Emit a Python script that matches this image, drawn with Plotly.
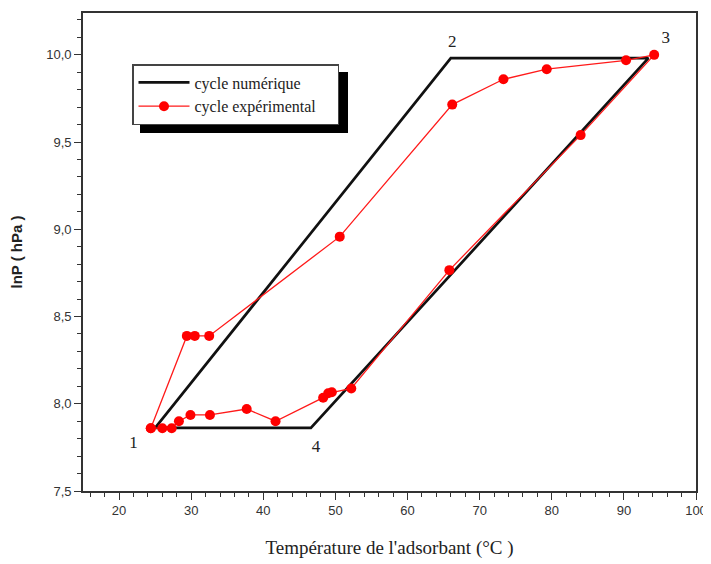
import plotly.graph_objects as go

# Numerical cycle (corners 1 -> 2 -> 3 -> 4 -> 1)
num_T = [25.0, 66.0, 93.4, 46.6, 25.0]
num_lnP = [7.862, 9.981, 9.981, 7.862, 7.862]

# Experimental cycle
exp_T = [24.4, 29.4, 30.5, 32.5, 50.6, 66.2, 73.3, 79.3, 90.3, 94.2,
         84.0, 65.8, 52.2, 49.5, 49.0, 48.3, 41.7, 37.7, 32.6, 29.9,
         28.3, 27.3, 26.0, 24.4]
exp_lnP = [7.86, 8.389, 8.389, 8.389, 8.958, 9.715, 9.86, 9.918, 9.969, 10.0,
           9.54, 8.766, 8.088, 8.066, 8.06, 8.035, 7.90, 7.97, 7.936, 7.936,
           7.90, 7.86, 7.86, 7.86]

# Point labels
pt_labels = ["1", "2", "3", "4"]
pt_T = [22.0, 66.2, 95.8, 47.3]
pt_lnP = [7.77, 10.07, 10.09, 7.75]

y_tickvals = [7.5, 8.0, 8.5, 9.0, 9.5, 10.0]
y_ticktext = ["7,5", "8,0", "8,5", "9,0", "9,5", "10,0"]
x_tickvals = [20, 30, 40, 50, 60, 70, 80, 90, 100]

OFF = 8  # page body margin
W, H = 711 - OFF, 564 - OFF
L, R, T, B = 83 - OFF, 696 - OFF, 13 - OFF, 491 - OFF
PW, PH = R - L, B - T


def px(xp):
    return (xp - OFF - L) / PW


def py(yp):
    return (B - (yp - OFF)) / PH


fig = go.Figure()
fig.add_trace(go.Scatter(
    x=num_T, y=num_lnP, mode="lines", name="cycle numérique",
    line=dict(color="#111111", width=2.7),
))
fig.add_trace(go.Scatter(
    x=exp_T, y=exp_lnP, mode="lines+markers",
    name="cycle expérimental" + "\u00a0" * 4,
    line=dict(color="#ff1a1a", width=1.3),
    marker=dict(color="#ff0000", size=10),
))
fig.add_trace(go.Scatter(
    x=pt_T, y=pt_lnP, mode="text", text=pt_labels, showlegend=False,
    textfont=dict(family="Liberation Serif", size=17, color="#222222"),
    hoverinfo="skip",
))

# legend shadow
fig.add_shape(type="rect", xref="paper", yref="paper",
              x0=px(140), x1=px(348), y0=py(133), y1=py(72),
              fillcolor="black", line=dict(width=0), layer="below")

axis_common = dict(
    showgrid=False, zeroline=False, showline=True, linecolor="#333333",
    linewidth=1.6, mirror=True, ticks="outside", ticklen=7, tickwidth=1.3,
    tickcolor="#333333", automargin=False,
    tickfont=dict(family="Liberation Sans", size=13, color="#333333"),
)

fig.update_xaxes(
    range=[15, 100], tickvals=x_tickvals,
    minor=dict(dtick=2, ticks="outside", ticklen=4, tickwidth=1.1, tickcolor="#333333"),
    title=dict(text="Température de l'adsorbant (°C )",
               font=dict(family="Liberation Serif", size=19, color="#222222"),
               standoff=23),
    **axis_common,
)
fig.update_yaxes(
    range=[7.5, 10.24], tickvals=y_tickvals, ticktext=y_ticktext,
    minor=dict(dtick=0.1, tick0=7.5, ticks="outside", ticklen=4, tickwidth=1.1, tickcolor="#333333"),
    title=dict(text="<b>lnP ( hPa )</b>",
               font=dict(family="Liberation Sans", size=15, color="#222222"),
               standoff=20),
    **axis_common,
)

fig.update_layout(
    width=W, height=H,
    margin=dict(l=L, r=W - R, t=T, b=H - B),
    paper_bgcolor="white", plot_bgcolor="white",
    legend=dict(
        x=px(132), y=py(64), xanchor="left", yanchor="top",
        bgcolor="white", bordercolor="#444444", borderwidth=1.5,
        font=dict(family="Liberation Serif", size=16, color="#222222"),
        tracegroupgap=0, itemwidth=51,
    ),
)

fig.write_html("out.html")
